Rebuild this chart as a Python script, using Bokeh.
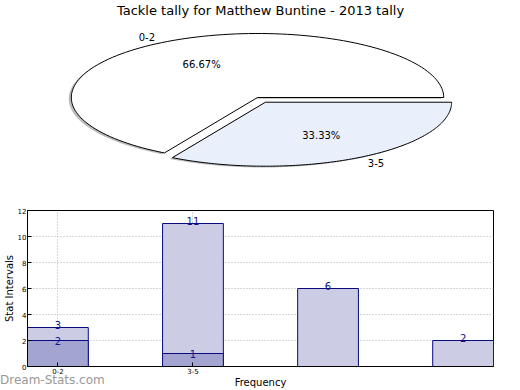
import numpy as np
from bokeh.plotting import figure
from bokeh.layouts import column
from bokeh.models import Range1d, FixedTicker, ColumnDataSource, Div
from bokeh.core.properties import value
from bokeh.embed import file_html
from bokeh.resources import INLINE

# ---------------- data ----------------
title_text = "Tackle tally for Matthew Buntine - 2013 tally"
pie_labels = ["0-2", "3-5"]
pie_shares = [66.67, 33.33]
pie_explode = [0.0, 0.085]
pie_colors = ["#ffffff", "#e9f0fc"]

bar_positions = [0, 1, 2, 3]
bar_light = [3, 11, 6, 2]
bar_dark = [2, 1, 0, 0]
tick_positions = [0, 1]
tick_labels = ["0-2", "3-5"]
x_label = "Frequency"
y_label = "Stat Intervals"
watermark = "Dream-Stats.com"

FONT = "DejaVu Sans"

# ---------------- layout constants ----------------
W = 520
L, R = 25, 27                 # frame borders shared by both figures (column aligns frames)
FW = W - L - R
PIE_H = 200
BAR_H = 390 - PIE_H
cx_px, cy_px = 256 - L, 97    # pie centre in frame pixels
rx_px, ry_px = 187, 64

# ---------------- pie ----------------
pie = figure(width=W, height=PIE_H, output_backend="svg", toolbar_location=None,
             x_range=Range1d(-cx_px / rx_px, (FW - cx_px) / rx_px),
             y_range=Range1d(-(PIE_H - cy_px) / ry_px, cy_px / ry_px),
             min_border_left=L, min_border_right=R, min_border_top=0, min_border_bottom=0)
pie.axis.visible = False
pie.grid.visible = False
pie.outline_line_color = None

fr = np.array(pie_shares) / np.sum(pie_shares)
starts = np.concatenate([[0], np.cumsum(fr)[:-1]]) * 2 * np.pi
ends = np.cumsum(fr) * 2 * np.pi
xs, ys, sx, sy = [], [], [], []
for a0, a1, ex in zip(starts, ends, pie_explode):
    mid = (a0 + a1) / 2
    ox, oy = ex * np.cos(mid), ex * np.sin(mid)
    t = np.linspace(a0, a1, 120)
    px = np.concatenate([[ox], ox + np.cos(t)])
    py = np.concatenate([[oy], oy + np.sin(t)])
    xs.append(list(px)); ys.append(list(py))
    sx.append(list(px - 0.014)); sy.append(list(py - 0.02))

pie.patches(sx, sy, fill_color="#7a7a7a", fill_alpha=0.5, line_color=None)
pie.patches(xs, ys, fill_color=pie_colors, line_color="black", line_width=1)

for a0, a1, ex, lab, sh in zip(starts, ends, pie_explode, pie_labels, pie_shares):
    mid = (a0 + a1) / 2
    ox, oy = ex * np.cos(mid), ex * np.sin(mid)
    lx, ly = ox + 1.1 * np.cos(mid), oy + 1.1 * np.sin(mid)
    align = "left" if lx > 0 else "right"
    pie.text([lx], [ly], text=[lab], text_align=align, text_baseline="middle",
             text_font=value(FONT), text_font_size="10px", text_color="black")
    px_, py_ = ox + 0.6 * np.cos(mid), oy + 0.6 * np.sin(mid)
    pie.text([px_], [py_], text=["%.2f%%" % sh], text_align="center", text_baseline="middle",
             text_font=value(FONT), text_font_size="10px", text_color="black")

pie.text([(259 - L - cx_px) / rx_px], [(cy_px - 10) / ry_px], text=[title_text],
         text_align="center", text_baseline="middle",
         text_font=value(FONT), text_font_size="13px", text_color="black")

# ---------------- bars ----------------
bw = 0.45
bar = figure(width=W, height=BAR_H, output_backend="svg", toolbar_location=None,
             x_range=Range1d(-bw / 2, bar_positions[-1] + bw / 2),
             y_range=Range1d(0, 12),
             min_border_top=10, min_border_right=R, min_border_left=L, min_border_bottom=0)

light_src = ColumnDataSource(dict(x=bar_positions, top=bar_light,
                                  lab=[str(v) for v in bar_light]))
dark_mask = np.array(bar_dark) > 0
dark_src = ColumnDataSource(dict(x=list(np.array(bar_positions)[dark_mask]),
                                 top=list(np.array(bar_dark)[dark_mask]),
                                 lab=[str(v) for v in np.array(bar_dark)[dark_mask]]))

bar.vbar(x="x", top="top", width=bw, bottom=0, source=light_src,
         fill_color="#ccccE4", line_color="#0a0a80", line_width=1)
bar.vbar(x="x", top="top", width=bw, bottom=0, source=dark_src,
         fill_color="#a4a4d0", line_color="#0a0a80", line_width=1)
bar.text(x="x", y="top", text="lab", source=light_src, text_align="center",
         text_baseline="middle", y_offset=-3, text_font=value(FONT),
         text_font_size="10px", text_color="#14148a")
bar.text(x="x", y="top", text="lab", source=dark_src, text_align="center",
         text_baseline="middle", y_offset=0, text_font=value(FONT),
         text_font_size="10px", text_color="#14148a")

bar.xaxis.ticker = FixedTicker(ticks=tick_positions)
bar.xaxis.major_label_overrides = {p: l for p, l in zip(tick_positions, tick_labels)}
bar.yaxis.ticker = FixedTicker(ticks=list(range(0, 13, 2)))
for ax in (bar.xaxis, bar.yaxis):
    ax.major_tick_in = 4
    ax.major_tick_out = 0
    ax.minor_tick_line_color = None
    ax.axis_line_color = "black"
    ax.major_label_text_font = FONT
    ax.major_label_text_font_size = "7px"
    ax.major_label_text_color = "black"
    ax.major_label_standoff = 1
    ax.axis_label_text_font = FONT
    ax.axis_label_text_font_size = "10px"
    ax.axis_label_text_font_style = "normal"
    ax.axis_label_text_color = "black"
    ax.axis_label_standoff = 0
bar.xaxis.axis_label = x_label
bar.yaxis.axis_label = y_label

bar.xgrid.ticker = FixedTicker(ticks=tick_positions)
bar.grid.grid_line_color = "#b0b0b0"
bar.grid.grid_line_dash = "1 2"
bar.grid.grid_line_width = 1
bar.outline_line_color = "black"
bar.outline_line_alpha = 1

mark = Div(text=watermark, width=110, height=0, margin=(0, 0, 0, 0),
           styles={"margin-top": "-18px", "color": "#999999", "font-family": "DejaVu Sans",
                   "font-size": "12px", "font-weight": "normal", "white-space": "nowrap",
                   "overflow": "visible", "z-index": "5"})

layout = column(pie, bar, mark, spacing=0)
open("out.html", "w").write(file_html(layout, INLINE))
